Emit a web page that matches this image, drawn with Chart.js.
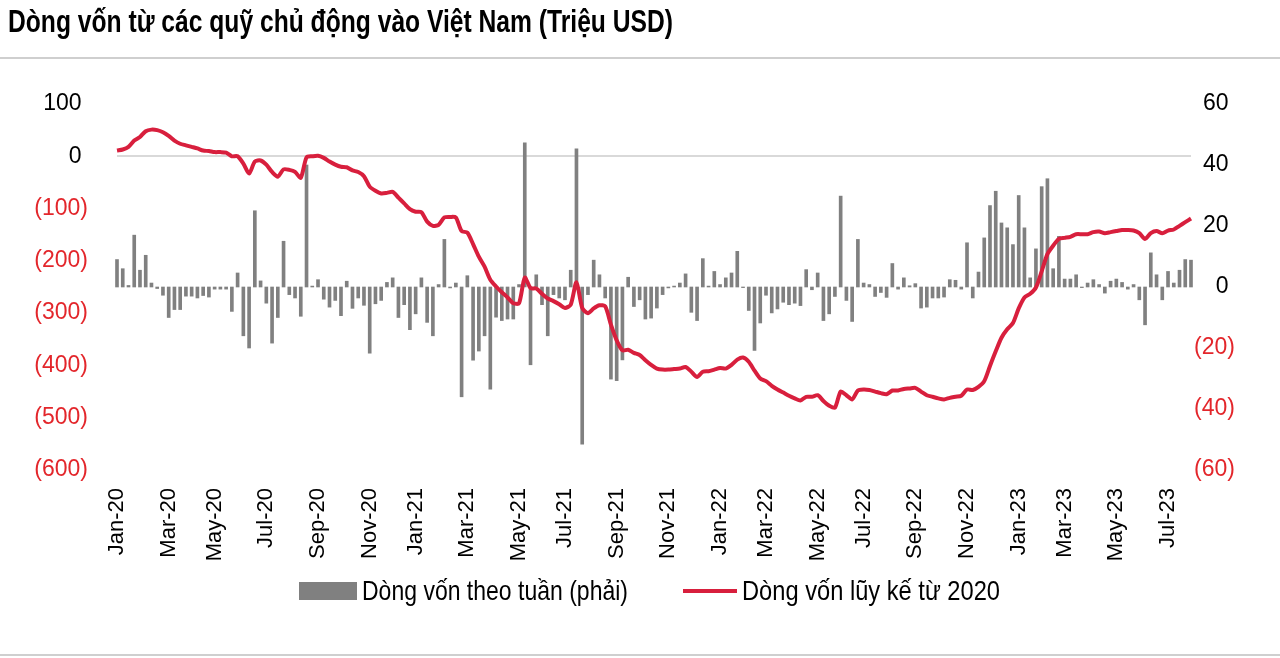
<!DOCTYPE html>
<html>
<head>
<meta charset="utf-8">
<script src="https://cdn.jsdelivr.net/npm/chart.js@4.4.0/dist/chart.umd.min.js"></script>
<style>
  html, body { margin: 0; padding: 0; background: #fff; }
  #wrap { position: relative; width: 1280px; height: 658px; overflow: hidden; }
  #chart { position: absolute; left: 0; top: 0; }
  .narrow { font-family: 'Liberation Sans Narrow', 'Arial Narrow', 'Liberation Sans', Arial, sans-serif; color: #000; white-space: nowrap; position: absolute; transform-origin: 0 50%; }
  #title { left: 8px; top: 4px; font-size: 31px; font-weight: bold; line-height: 36px; }
  .rule { position: absolute; left: 0; width: 1280px; height: 2px; background: #cfcfcf; }
  .swatch { position: absolute; }
  .legText { font-size: 28px; line-height: 30px; top: 576px; }
</style>
</head>
<body>
<div id="wrap">
  <canvas id="chart" width="1280" height="658"></canvas>
  <div id="title" class="narrow">Dòng vốn từ các quỹ chủ động vào Việt Nam (Triệu USD)</div>
  <div class="rule" style="top:57px"></div>
  <div class="rule" style="top:654px"></div>
  <div id="legend"></div>
</div>
<script>
// weekly flows (right axis, million USD), first week = 2020-01-03
const weeklyFlow = [
  9, 6, 0.5, 17, 5.5, 10.4, 1.3, -0.5, -2.7, -10,
  -7.4, -7.4, -3, -3, -3.6, -2.8, -3.3, -0.7, -0.7, -0.7,
  -8, 4.6, -16, -20, 25, 2, -5.3, -18.4, -10, 15,
  -2.5, -3.6, -9.6, 40, 0.3, 2.4, -4, -6.6, -4.4, -9.4,
  1.9, -7, -3.6, -6, -21.7, -5.5, -4.4, 1.5, 3, -10,
  -5.8, -14, -8.8, 3, -11.6, -16, 0.8, 15.6, -0.3, 1.3,
  -36, 3.7, -24, -21, -16, -33.5, -9.9, -11, -10.5, -10.5,
  0.8, 47.3, -25.5, 4, -5.8, -16, -2.5, -3.6, -4.2, 5.5,
  45.3, -51.5, -2.5, 8.8, 4, -3.6, -30.2, -30.7, -23.9, 3.2,
  -6.4, -4.2, -10.5, -10.2, -6.9, -2.5, -0.3, 0.3, 1.3, 4.3,
  -8.3, -11, 9.3, 0.3, 5.1, 0.8, 3, 4.6, 11.7, -0.2,
  -7.7, -20.8, -11.8, -2.7, -8.5, -7.2, -5, -5.8, -5.3, -6.1,
  5.7, -0.9, 4.6, -11, -8.8, -3.1, 29.8, -4.4, -11.3, 15.6,
  1.3, 0.8, -3.1, -1.8, -3.4, 7.7, -0.7, 3, 0.4, 1.1,
  -6.9, -6.6, -3.6, -3.6, -3.3, 2.4, 2.2, -0.7, 14.5, -3.6,
  4.9, 16.1, 26.7, 31.4, 21, 19.4, 13.9, 30, 19.4, 3,
  12.5, 32.9, 35.5, 6, 16.6, 2.6, 2.6, 4, -0.2, 1.3,
  2.4, 0.8, -2, 1.9, 2.6, 1.5, -0.7, 0.8, -4.2, -12.4,
  11.2, 4, -4.2, 5.1, 1.3, 5.5, 9, 8.8
];

// cumulative flows since 2020 (left axis, million USD)
const cumulativeFlow = [
  11, 13, 18, 30, 37, 48, 51, 50, 46, 39,
  30, 24, 21, 18, 15, 11, 10, 8, 8, 7,
  0, 0, -14, -33, -10, -8, -16, -30, -39, -25,
  -26, -30, -41, -2, 0, 1, -3, -10, -16, -20,
  -21, -27, -30, -38, -58, -66, -71, -70, -68, -79,
  -90, -101, -106, -107, -125, -133, -131, -117, -116, -117,
  -143, -146, -168, -192, -211, -236, -249, -260, -270, -281,
  -281, -232, -252, -253, -263, -272, -277, -283, -290, -284,
  -241, -290, -300, -291, -285, -287, -322, -352, -371, -370,
  -376, -380, -390, -399, -406, -408, -408, -407, -406, -403,
  -412, -422, -412, -411, -408, -405, -406, -399, -389, -385,
  -393, -410, -425, -430, -439, -446, -452, -458, -463, -467,
  -460, -460, -457, -468, -477, -481, -450, -457, -465, -448,
  -446, -447, -450, -453, -455, -448, -448, -445, -444, -443,
  -450, -457, -460, -463, -465, -462, -460, -458, -446, -447,
  -441, -430, -401, -373, -347, -331, -319, -291, -270, -263,
  -251, -220, -187, -171, -158, -156, -154, -149, -149, -149,
  -145, -144, -147, -145, -143, -141, -141, -142, -147, -158,
  -147, -143, -147, -142, -140, -133, -126, -119
];

const tickLabels = [
  'Jan-20', 'Mar-20', 'May-20', 'Jul-20', 'Sep-20', 'Nov-20',
  'Jan-21', 'Mar-21', 'May-21', 'Jul-21', 'Sep-21', 'Nov-21',
  'Jan-22', 'Mar-22', 'May-22', 'Jul-22', 'Sep-22', 'Nov-22',
  'Jan-23', 'Mar-23', 'May-23', 'Jul-23'
];

const RED = '#d81f3d';
const LABEL_RED = '#e3262b';
const GREY = '#808080';
const MONTHS = ['Jan','Feb','Mar','Apr','May','Jun','Jul','Aug','Sep','Oct','Nov','Dec'];

// one category per week (Fridays)
const weeks = [];
for (let i = 0; i < weeklyFlow.length; i++) {
  weeks.push(new Date(Date.UTC(2020, 0, 3 + 7 * i)).toISOString().slice(0, 10));
}
function monthOf(iso) {
  const parts = iso.split('-');
  return MONTHS[+parts[1] - 1] + '-' + parts[0].slice(2);
}

const axisFont = { family: "'Liberation Sans', Arial, sans-serif", size: 23 };

const chart = new Chart(document.getElementById('chart'), {
  data: {
    labels: weeks,
    datasets: [
      {
        type: 'line',
        label: 'Dòng vốn lũy kế từ 2020',
        data: cumulativeFlow,
        yAxisID: 'yL',
        borderColor: RED,
        backgroundColor: RED,
        borderWidth: 4,
        pointRadius: 0,
        tension: 0.25,
        order: 0
      },
      {
        type: 'bar',
        label: 'Dòng vốn theo tuần (phải)',
        data: weeklyFlow,
        yAxisID: 'yR',
        backgroundColor: GREY,
        barThickness: 3,
        clip: 4,
        order: 1
      }
    ]
  },
  options: {
    responsive: false,
    animation: false,
    devicePixelRatio: 1,
    layout: { padding: { top: 104, left: 17, right: 45, bottom: 88 } },
    plugins: {
      legend: { display: false },
      title: { display: false },
      tooltip: { enabled: false }
    },
    scales: {
      x: {
        type: 'category',
        offset: false,
        grid: { display: false },
        border: { display: false },
        ticks: {
          autoSkip: false,
          minRotation: 90,
          maxRotation: 90,
          padding: 10,
          color: '#000',
          font: { family: "'Liberation Sans', Arial, sans-serif", size: 22 },
          callback: function(value, index) {
            const m = monthOf(weeks[index]);
            const prev = index > 0 ? monthOf(weeks[index - 1]) : null;
            return (m !== prev && tickLabels.includes(m)) ? m : null;
          }
        },
        afterFit: function(scale) { scale.height = 100; }
      },
      yL: {
        type: 'linear',
        position: 'left',
        min: -600,
        max: 100,
        grid: {
          drawTicks: false,
          lineWidth: 2,
          color: c => (c.tick && c.tick.value === 0) ? '#d9d9d9' : 'rgba(0,0,0,0)'
        },
        border: { display: false },
        ticks: {
          stepSize: 100,
          padding: 29,
          font: axisFont,
          color: c => (c.tick && c.tick.value < 0) ? LABEL_RED : '#000',
          callback: v => v < 0 ? '(' + Math.abs(v) + ')' : v + ' '
        },
        afterFit: function(scale) { scale.width = 100; }
      },
      yR: {
        type: 'linear',
        position: 'right',
        min: -60,
        max: 60,
        grid: { display: false, drawTicks: false },
        border: { display: false },
        ticks: {
          stepSize: 20,
          crossAlign: 'far',
          font: axisFont,
          color: c => (c.tick && c.tick.value < 0) ? LABEL_RED : '#000',
          callback: v => v < 0 ? '(' + Math.abs(v) + ')' : v + ' '
        },
        afterFit: function(scale) { scale.width = 44; }
      }
    }
  }
});

// legend built from the datasets
const legend = document.getElementById('legend');
const barDs = chart.data.datasets[1];
const lineDs = chart.data.datasets[0];
legend.innerHTML =
  '<div class="swatch" style="left:299px;top:582px;width:58px;height:18px;background:' + barDs.backgroundColor + '"></div>' +
  '<div id="leg1" class="narrow legText" style="left:362px">' + barDs.label + '</div>' +
  '<div class="swatch" style="left:683px;top:589px;width:54px;height:4px;background:' + lineDs.borderColor + '"></div>' +
  '<div id="leg2" class="narrow legText" style="left:742px">' + lineDs.label + '</div>';

// squeeze texts to the condensed widths of the original
function squeeze(id, width) {
  const el = document.getElementById(id);
  const w = el.getBoundingClientRect().width;
  if (w > width) el.style.transform = 'scaleX(' + (width / w) + ')';
}
squeeze('title', 665);
squeeze('leg1', 266);
squeeze('leg2', 258);
</script>
</body>
</html>
